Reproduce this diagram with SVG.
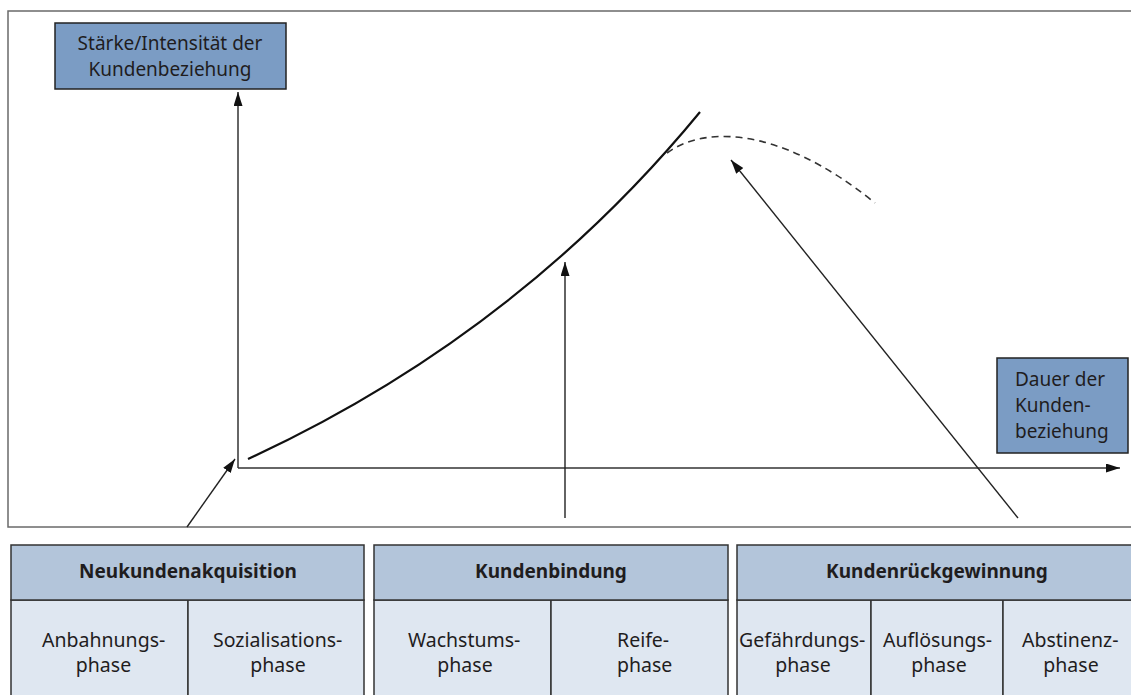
<svg xmlns="http://www.w3.org/2000/svg" width="1131" height="695" viewBox="0 0 1131 695">
  <style>
    text { font-family: "Noto Sans", "Open Sans", "DejaVu Sans", sans-serif; fill: #1f1d1e; }
    .lbl { font-size: 19px; }
    .hdr { font-size: 19px; font-weight: bold; text-anchor: middle; }
    .sub { font-size: 19.5px; }
    .mid { text-anchor: middle; }
    .axisbox { fill: #7b9cc4; stroke: #222; stroke-width: 1.5; }
    .head { fill: #b3c5da; stroke: #333; stroke-width: 1.5; }
    .cell { fill: #dfe7f1; stroke: #333; stroke-width: 1.5; }
    .axis { stroke: #333; stroke-width: 1.5; fill: none; }
    .arrow { stroke: #222; stroke-width: 1.4; fill: none; marker-end: url(#tip); }
    .curve { stroke: #111; stroke-width: 2.2; fill: none; }
    .dash { stroke: #333; stroke-width: 1.6; fill: none; stroke-dasharray: 7 5; }
  </style>
  <defs>
    <marker id="tip" markerUnits="userSpaceOnUse" markerWidth="15" markerHeight="11" refX="14" refY="4.5" orient="auto">
      <path d="M0,0 L14,4.5 L0,9 Z" fill="#111"/>
    </marker>
  </defs>

  <rect width="1131" height="695" fill="#ffffff"/>

  <!-- chart frame -->
  <rect x="8" y="11" width="1140" height="516" fill="none" stroke="#6a6a6a" stroke-width="1.5"/>

  <!-- axis labels -->
  <g id="y-label">
    <rect class="axisbox" x="55" y="23" width="231" height="66"/>
    <text class="lbl mid" x="170" y="50">Stärke/Intensität der</text>
    <text class="lbl mid" x="170" y="76">Kundenbeziehung</text>
  </g>
  <g id="x-label">
    <rect class="axisbox" x="997" y="358" width="131" height="95"/>
    <text class="lbl" x="1015" y="386">Dauer der</text>
    <text class="lbl" x="1015" y="412">Kunden-</text>
    <text class="lbl" x="1015" y="438">beziehung</text>
  </g>

  <!-- axes, curves and phase arrows -->
  <g id="connectors">
    <path class="axis" d="M238,468 L238,92" marker-end="url(#tip)"/>
    <path class="axis" d="M238,468 L1120,468" marker-end="url(#tip)"/>
    <path class="curve" d="M248,459 C428,376 580,258 700,112"/>
    <path class="dash" d="M667,153 C700,128 775,122 875,203"/>
    <path class="arrow" d="M187,527 L235,459"/>
    <path class="arrow" d="M565,518 L565,262"/>
    <path class="arrow" d="M1018,518 L731,160"/>
  </g>

  <!-- phase table: acquisition -->
  <g id="neukundenakquisition">
    <rect class="cell" x="11" y="600" width="177" height="110"/>
    <rect class="cell" x="188" y="600" width="176" height="110"/>
    <rect class="head" x="11" y="545" width="353" height="55"/>
    <text class="hdr" x="188" y="578">Neukundenakquisition</text>
    <text class="sub" x="42" y="647">Anbahnungs-</text>
    <text class="sub mid" x="103.5" y="672">phase</text>
    <text class="sub" x="213" y="647">Sozialisations-</text>
    <text class="sub mid" x="278" y="672">phase</text>
  </g>

  <!-- phase table: retention -->
  <g id="kundenbindung">
    <rect class="cell" x="374" y="600" width="177" height="110"/>
    <rect class="cell" x="551" y="600" width="177" height="110"/>
    <rect class="head" x="374" y="545" width="354" height="55"/>
    <text class="hdr" x="551" y="578">Kundenbindung</text>
    <text class="sub" x="408" y="647">Wachstums-</text>
    <text class="sub mid" x="465" y="672">phase</text>
    <text class="sub" x="617" y="647">Reife-</text>
    <text class="sub" x="617" y="672">phase</text>
  </g>

  <!-- phase table: win-back -->
  <g id="kundenrueckgewinnung">
    <rect class="cell" x="737" y="600" width="134" height="110"/>
    <rect class="cell" x="871" y="600" width="132" height="110"/>
    <rect class="cell" x="1003" y="600" width="140" height="110"/>
    <rect class="head" x="737" y="545" width="406" height="55"/>
    <text class="hdr" x="937" y="578">Kundenrückgewinnung</text>
    <text class="sub" x="739" y="647">Gefährdungs-</text>
    <text class="sub mid" x="803" y="672">phase</text>
    <text class="sub" x="883" y="647">Auflösungs-</text>
    <text class="sub mid" x="939" y="672">phase</text>
    <text class="sub" x="1022" y="647">Abstinenz-</text>
    <text class="sub mid" x="1071" y="672">phase</text>
  </g>
</svg>
